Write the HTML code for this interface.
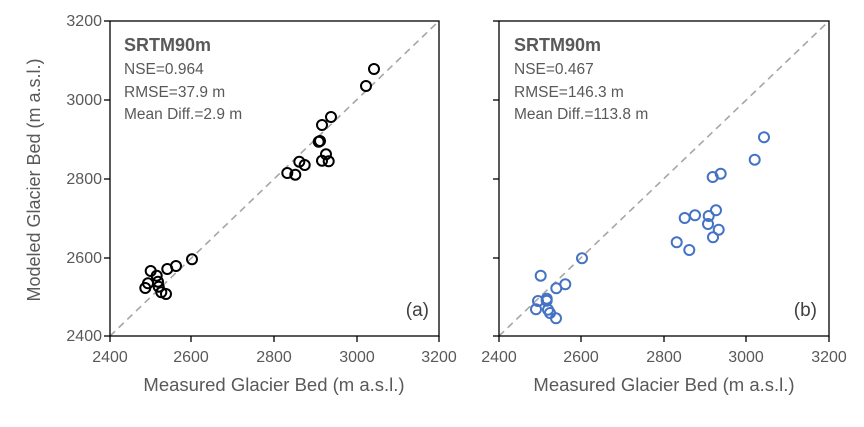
<!DOCTYPE html>
<html><head><meta charset="utf-8"><style>body{margin:0;background:#fff}svg{display:block}text{font-family:"Liberation Sans",sans-serif}</style></head><body>
<svg width="864" height="427" viewBox="0 0 864 427">
<rect width="864" height="427" fill="#fff"/>
<!-- panel a -->
<line x1="110" y1="336" x2="439" y2="21" stroke="#a6a6a6" stroke-width="1.6" stroke-dasharray="7,5"/>
<rect x="110" y="21" width="329" height="315" fill="none" stroke="#000" stroke-width="1.3"/>
<g stroke="#000" stroke-width="1.3">
<line x1="110" y1="336" x2="110" y2="342"/><line x1="191" y1="336" x2="191" y2="342"/><line x1="274" y1="336" x2="274" y2="342"/><line x1="357" y1="336" x2="357" y2="342"/><line x1="439" y1="336" x2="439" y2="342"/>
<line x1="104" y1="21" x2="110" y2="21"/><line x1="104" y1="100" x2="110" y2="100"/><line x1="104" y1="179" x2="110" y2="179"/><line x1="104" y1="258" x2="110" y2="258"/><line x1="104" y1="336" x2="110" y2="336"/>
</g>
<g font-size="16" fill="#595959" text-anchor="middle">
<text x="110" y="362">2400</text><text x="191" y="362">2600</text><text x="274" y="362">2800</text><text x="357" y="362">3000</text><text x="439" y="362">3200</text>
</g>
<g font-size="16" fill="#595959" text-anchor="end">
<text x="102" y="26">3200</text><text x="102" y="105">3000</text><text x="102" y="184">2800</text><text x="102" y="263">2600</text><text x="102" y="341">2400</text>
</g>
<text x="274" y="391" font-size="18.5" fill="#595959" text-anchor="middle">Measured Glacier Bed (m a.s.l.)</text>
<text transform="translate(40,180) rotate(-90)" font-size="18" fill="#595959" text-anchor="middle">Modeled Glacier Bed (m a.s.l.)</text>
<text x="124" y="51" font-size="18" font-weight="bold" fill="#595959">SRTM90m</text>
<g font-size="15.5" fill="#595959"><text x="124" y="74">NSE=0.964</text><text x="124" y="97">RMSE=37.9 m</text><text x="124" y="119">Mean Diff.=2.9 m</text></g>
<text x="429" y="316" font-size="19" fill="#404040" text-anchor="end">(a)</text>
<g fill="none" stroke="#000" stroke-width="2">
<circle cx="374" cy="69" r="5"/><circle cx="366" cy="86" r="5"/><circle cx="331" cy="117" r="5"/><circle cx="322" cy="125" r="5"/><circle cx="320" cy="141" r="5"/>
<circle cx="318.7" cy="141.7" r="5"/><circle cx="322" cy="160.7" r="5"/><circle cx="326" cy="154.3" r="5"/><circle cx="328.7" cy="161.3" r="5"/><circle cx="299.3" cy="161.7" r="5"/><circle cx="304.7" cy="165" r="5"/><circle cx="287.3" cy="173" r="5"/><circle cx="295.3" cy="174.7" r="5"/>
<circle cx="192" cy="259.3" r="5"/><circle cx="176" cy="266" r="5"/><circle cx="167.3" cy="269" r="5"/><circle cx="150.7" cy="271" r="5"/><circle cx="156.7" cy="275.7" r="5"/><circle cx="158" cy="281.7" r="5"/><circle cx="148" cy="283.3" r="5"/><circle cx="145.3" cy="288" r="5"/><circle cx="158.7" cy="286.7" r="5"/><circle cx="161.3" cy="292.3" r="5"/><circle cx="166" cy="294" r="5"/>
</g>
<!-- panel b -->
<line x1="499" y1="336" x2="829" y2="21" stroke="#a6a6a6" stroke-width="1.6" stroke-dasharray="7,5"/>
<rect x="499" y="21" width="330" height="315" fill="none" stroke="#000" stroke-width="1.3"/>
<g stroke="#000" stroke-width="1.3">
<line x1="499" y1="336" x2="499" y2="342"/><line x1="581" y1="336" x2="581" y2="342"/><line x1="664" y1="336" x2="664" y2="342"/><line x1="746" y1="336" x2="746" y2="342"/><line x1="829" y1="336" x2="829" y2="342"/>
<line x1="493" y1="21" x2="499" y2="21"/><line x1="493" y1="100" x2="499" y2="100"/><line x1="493" y1="179" x2="499" y2="179"/><line x1="493" y1="258" x2="499" y2="258"/><line x1="493" y1="336" x2="499" y2="336"/>
</g>
<g font-size="16" fill="#595959" text-anchor="middle">
<text x="499" y="362">2400</text><text x="581" y="362">2600</text><text x="664" y="362">2800</text><text x="746" y="362">3000</text><text x="829" y="362">3200</text>
</g>
<text x="664" y="391" font-size="18.5" fill="#595959" text-anchor="middle">Measured Glacier Bed (m a.s.l.)</text>
<text x="514" y="51" font-size="18" font-weight="bold" fill="#595959">SRTM90m</text>
<g font-size="15.5" fill="#595959"><text x="514" y="74">NSE=0.467</text><text x="514" y="97">RMSE=146.3 m</text><text x="514" y="119">Mean Diff.=113.8 m</text></g>
<text x="817" y="316" font-size="19" fill="#404040" text-anchor="end">(b)</text>
<g fill="none" stroke="#4472C4" stroke-width="2">
<circle cx="764" cy="137.3" r="5"/><circle cx="754.7" cy="159.7" r="5"/><circle cx="712.7" cy="177" r="5"/><circle cx="720.7" cy="173.7" r="5"/><circle cx="716" cy="210.3" r="5"/><circle cx="708.7" cy="216" r="5"/><circle cx="684.7" cy="218" r="5"/><circle cx="695" cy="215.3" r="5"/><circle cx="708" cy="224" r="5"/><circle cx="718.7" cy="229.7" r="5"/><circle cx="713" cy="237.3" r="5"/><circle cx="676.7" cy="242.3" r="5"/><circle cx="689.3" cy="250" r="5"/>
<circle cx="582" cy="258.3" r="5"/><circle cx="540.7" cy="275.7" r="5"/><circle cx="565.3" cy="284.3" r="5"/><circle cx="556.3" cy="288.3" r="5"/><circle cx="538" cy="301" r="5"/><circle cx="546.7" cy="298.7" r="5"/><circle cx="546.7" cy="300.7" r="5"/><circle cx="536" cy="309.3" r="5"/><circle cx="548" cy="309.7" r="5"/><circle cx="550" cy="313" r="5"/><circle cx="556" cy="318.3" r="5"/>
</g>
</svg>
</body></html>
